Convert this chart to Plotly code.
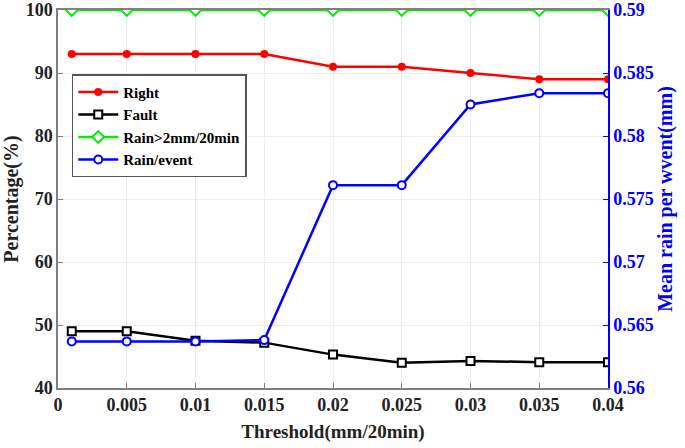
import plotly.graph_objects as go

# data
threshold = [0.001, 0.005, 0.01, 0.015, 0.02, 0.025, 0.03, 0.035, 0.04]
right = [93, 93, 93, 93, 91, 91, 90, 89, 89]
fault = [49, 49, 47.5, 47.2, 45.3, 44.0, 44.3, 44.1, 44.1]
rain_gt2 = [100, 100, 100, 100, 100, 100, 100, 100, 100]
rain_event = [0.5637, 0.5637, 0.5637, 0.5638, 0.5761, 0.5761, 0.5825, 0.5834, 0.5834]

FONT = "Liberation Serif, Times New Roman, serif"

fig = go.Figure()
fig.add_trace(go.Scatter(x=threshold, y=right, name="<b>Right</b>", mode="lines+markers",
                         line=dict(color="#ff0000", width=2.5),
                         marker=dict(symbol="circle", size=8, color="#ff0000")))
fig.add_trace(go.Scatter(x=threshold, y=fault, name="<b>Fault</b>", mode="lines+markers",
                         line=dict(color="#000000", width=2.5),
                         marker=dict(symbol="square", size=8, color="white",
                                     line=dict(color="black", width=2))))
fig.add_trace(go.Scatter(x=threshold, y=rain_gt2, name="<b>Rain>2mm/20min</b>", mode="lines+markers",
                         line=dict(color="#00ee00", width=2.5),
                         marker=dict(symbol="diamond", size=9, color="white",
                                     line=dict(color="#00ee00", width=2))))
fig.add_trace(go.Scatter(x=threshold, y=rain_event, name="<b>Rain/event</b>", mode="lines+markers",
                         yaxis="y2",
                         line=dict(color="#0000ff", width=2.5),
                         marker=dict(symbol="circle", size=8, color="white",
                                     line=dict(color="#0000ff", width=2))))

fig.update_layout(
    width=685, height=448,
    margin=dict(l=58, r=77, t=10, b=60),
    paper_bgcolor="white", plot_bgcolor="white",
    font=dict(family=FONT, size=17, color="#222222"),
    showlegend=True,
    legend=dict(x=0.025, y=0.83, xanchor="left", yanchor="top",
                bgcolor="white", bordercolor="#555555", borderwidth=1.5,
                font=dict(family=FONT, size=15, color="black"),
                tracegroupgap=0, itemwidth=40),
    xaxis=dict(range=[0, 0.04], dtick=0.005, tick0=0, automargin=False,
               showgrid=True, gridcolor="#ececec", gridwidth=1,
               showline=True, linecolor="#808080", linewidth=1.5, mirror=True,
               ticks="inside", ticklen=5, tickcolor="#808080",
               tickfont=dict(family=FONT, size=18, color="#222222"),
               title=dict(text="<b>Threshold(mm/20min)</b>", standoff=10,
                          font=dict(family=FONT, size=19, color="#222222")),
               zeroline=False),
    yaxis=dict(range=[40, 100], dtick=10, automargin=False,
               showgrid=True, gridcolor="#ececec", gridwidth=1,
               showline=True, linecolor="#808080", linewidth=1.5,
               ticks="inside", ticklen=5, tickcolor="#808080",
               tickfont=dict(family=FONT, size=18, color="#222222"),
               title=dict(text="<b>Percentage(%)</b>", standoff=4,
                          font=dict(family=FONT, size=20, color="#222222")),
               zeroline=False),
    yaxis2=dict(range=[0.56, 0.59], dtick=0.005, overlaying="y", side="right",
                automargin=False,
                showgrid=False, showline=True, linecolor="#0000ff", linewidth=1.5,
                ticks="inside", ticklen=5, tickcolor="#0000ff",
                tickfont=dict(family=FONT, size=18, color="#0000ff"),
                title=dict(text="<b>Mean rain per wvent(mm)</b>", standoff=4,
                           font=dict(family=FONT, size=20, color="#0000ff")),
                zeroline=False),
)
fig.update_xaxes(tickprefix="<b>", ticksuffix="</b>")
fig.update_yaxes(tickprefix="<b>", ticksuffix="</b>")
fig.update_layout(yaxis2=dict(tickprefix="<b>", ticksuffix="</b>"))

# page body has an 8px default margin; drop it so the figure fills the window
fig.write_html("out.html", config={"displayModeBar": False},
               post_script="document.body.style.margin='0';")
